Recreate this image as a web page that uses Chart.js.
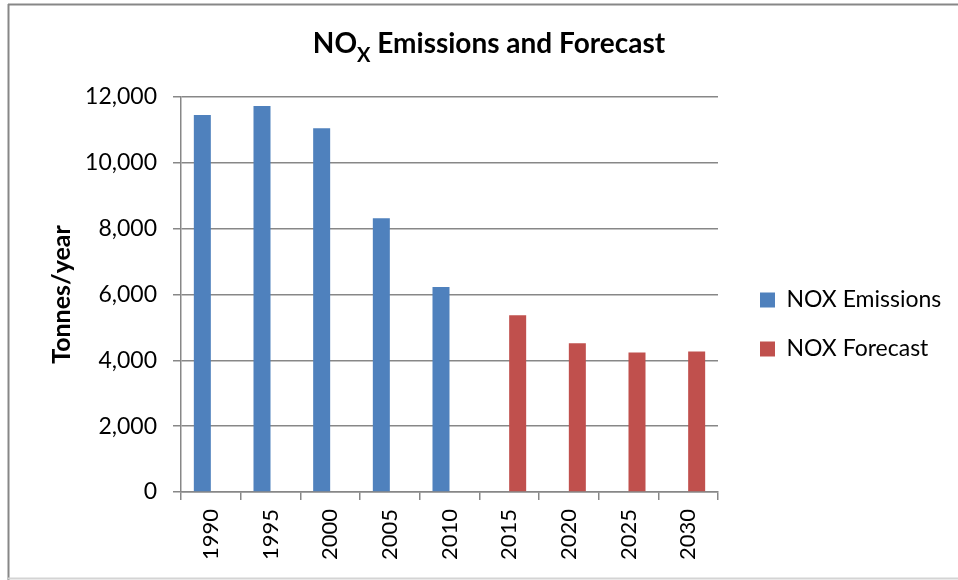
<!DOCTYPE html>
<html>
<head>
<meta charset="utf-8">
<script src="https://cdn.jsdelivr.net/npm/chart.js@4"></script>
<style>
  body { margin: 0; background: #fff; }
</style>
</head>
<body>
<canvas id="bar-chart-nox" width="958" height="580"></canvas>
<script>
// datos
const years = ['1990', '1995', '2000', '2005', '2010', '2015', '2020', '2025', '2030'];
const emissions = [11450, 11730, 11050, 8320, 6230, null, null, null, null];
const forecast = [null, null, null, null, null, 5370, 4520, 4240, 4270];
const yTicks = [0, 2000, 4000, 6000, 8000, 10000, 12000];

const azul = '#4F81BD';
const rojo = '#C0504D';
const gris = '#878787';
const fuente = 'Lato, Calibri, "Open Sans", sans-serif';

// marco y titulo con subindice
const marcoTitulo = {
  id: 'marcoTitulo',
  beforeInit(chart) {
    const fitOrig = chart.legend.fit;
    chart.legend.fit = function () {
      fitOrig.call(this);
      this.width = 240;
    };
  },
  afterLayout(chart) {
    const lg = chart.legend;
    lg.left += 16; lg.right += 16;
    lg.top -= 14; lg.bottom -= 14;
  },
  beforeDraw(chart) {
    const ctx = chart.ctx;
    ctx.save();
    ctx.lineWidth = 2;
    ctx.strokeStyle = gris;
    ctx.beginPath();
    ctx.moveTo(8, 4.5); ctx.lineTo(958, 4.5);
    ctx.moveTo(8.5, 4); ctx.lineTo(8.5, 580);
    ctx.stroke();
    ctx.strokeStyle = '#d4d4d4';
    ctx.beginPath();
    ctx.moveTo(8, 578.5); ctx.lineTo(958, 578.5);
    ctx.stroke();
    ctx.restore();
  },
  afterDraw(chart) {
    const ctx = chart.ctx;
    ctx.save();
    ctx.fillStyle = '#000';
    ctx.textBaseline = 'alphabetic';
    const big = 'bold 28px ' + fuente;
    const small = 'bold 20px ' + fuente;
    const p1 = 'NO', p2 = 'X', p3 = ' Emissions and Forecast';
    ctx.font = big;
    const w1 = ctx.measureText(p1).width;
    const w3 = ctx.measureText(p3).width;
    ctx.font = small;
    const w2 = ctx.measureText(p2).width;
    let x = 489 - (w1 + w2 + w3) / 2;
    const base = 53;
    ctx.font = big;
    ctx.fillText(p1, x, base);
    x += w1;
    ctx.font = small;
    ctx.fillText(p2, x, base + 9);
    x += w2;
    ctx.font = big;
    ctx.fillText(p3, x, base);
    ctx.restore();
  }
};

new Chart(document.getElementById('bar-chart-nox'), {
  type: 'bar',
  data: {
    labels: years,
    datasets: [{
        label: 'NOX Emissions',
        data: emissions,
        backgroundColor: azul,
        borderWidth: 0
      }, {
        label: 'NOX Forecast',
        data: forecast,
        backgroundColor: rojo,
        borderWidth: 0
      }
    ]
  },
  options: {
    responsive: false,
    animation: false,
    categoryPercentage: 0.57,
    barPercentage: 1.0,
    layout: {
      padding: { top: 97, left: 8, right: 0, bottom: 0 }
    },
    scales: {
      x: {
        grid: {
          offset: true,
          drawOnChartArea: false,
          drawTicks: true,
          tickLength: 8,
          color: gris,
          lineWidth: 1.5
        },
        border: { color: gris, width: 1.5 },
        ticks: {
          color: '#000',
          font: { family: fuente, size: 22 },
          minRotation: 90,
          maxRotation: 90,
          padding: 9,
          autoSkip: false
        },
        afterFit(scale) { scale.height = 88; }
      },
      y: {
        min: 0,
        max: 12000,
        afterBuildTicks(scale) {
          scale.ticks = yTicks.map(v => ({ value: v }));
        },
        grid: {
          color: gris,
          lineWidth: 1.5,
          tickLength: 8
        },
        border: { color: gris, width: 1.5 },
        ticks: {
          color: '#000',
          font: { family: fuente, size: 23 },
          padding: 16,
          callback: v => v.toLocaleString('en-US')
        },
        title: {
          display: true,
          text: 'Tonnes/year',
          color: '#000',
          font: { family: fuente, size: 25, weight: 'bold' },
          padding: { top: 39, bottom: 0 }
        },
        afterFit(scale) { scale.width = 173; }
      }
    },
    plugins: {
      legend: {
        position: 'right',
        labels: {
          color: '#000',
          font: { family: fuente, size: 23 },
          boxWidth: 15,
          boxHeight: 15,
          padding: 26
        }
      },
      title: { display: false },
      tooltip: { enabled: false }
    }
  },
  plugins: [marcoTitulo]
});
</script>
</body>
</html>
